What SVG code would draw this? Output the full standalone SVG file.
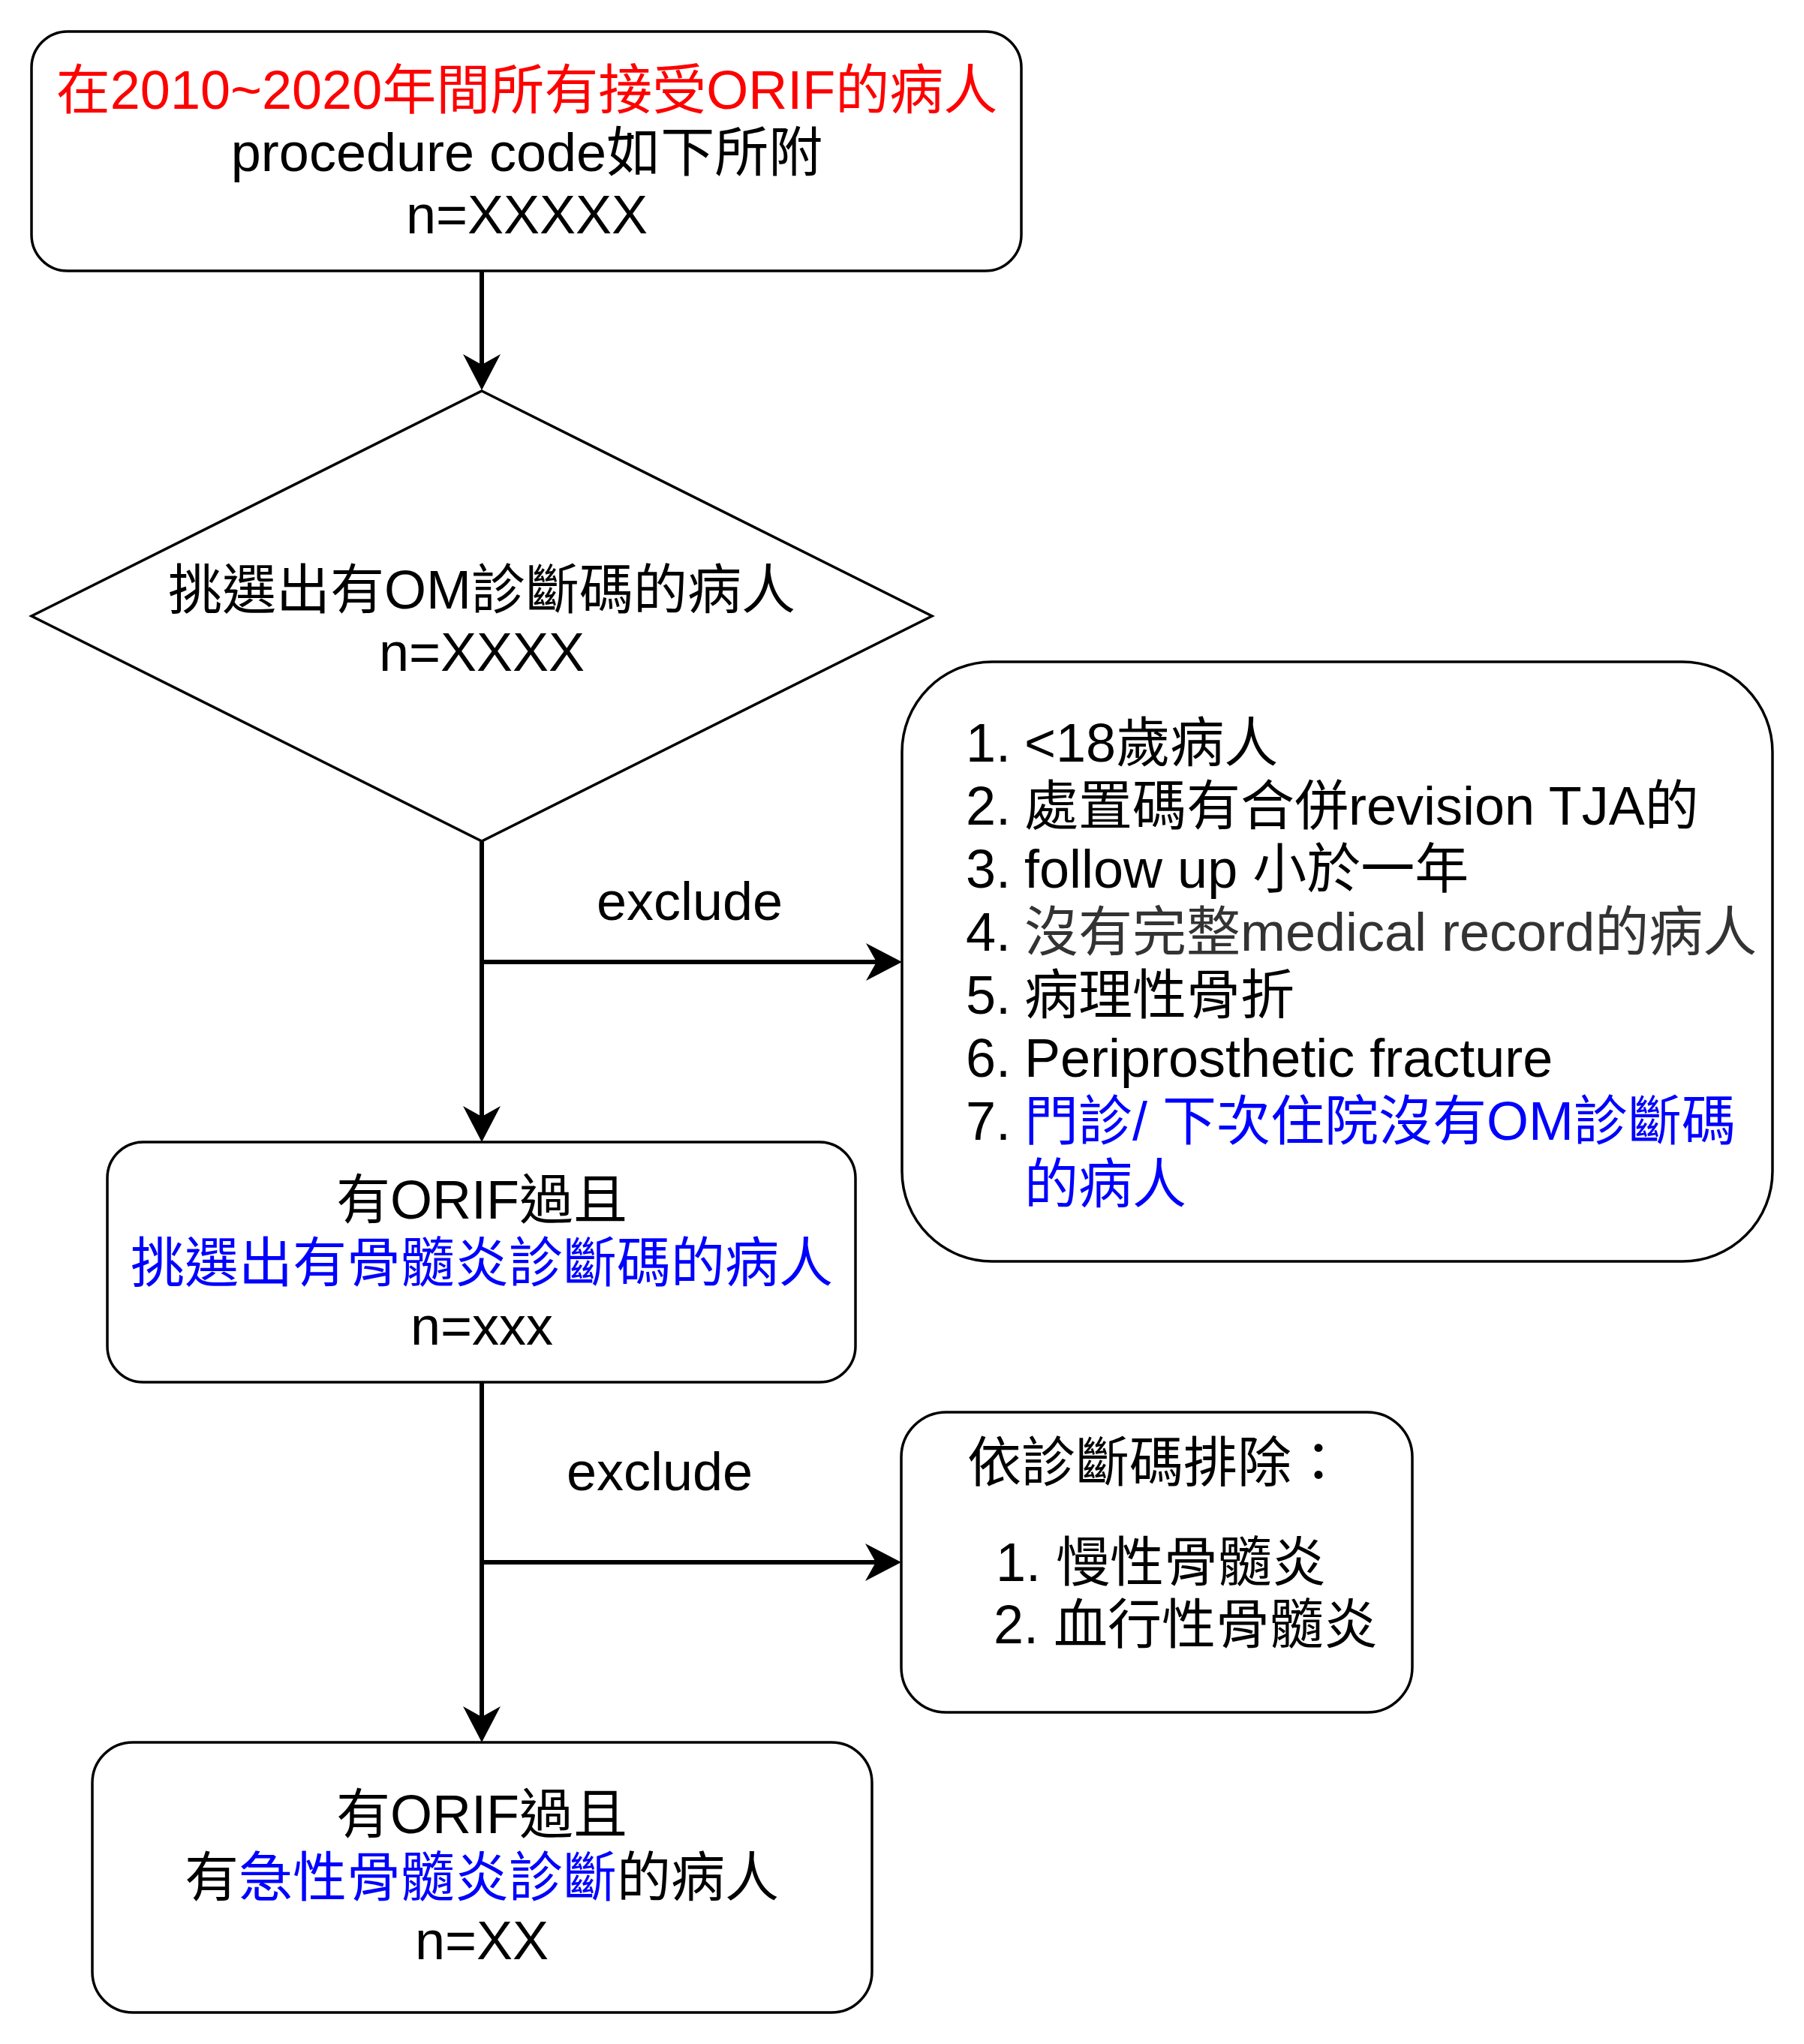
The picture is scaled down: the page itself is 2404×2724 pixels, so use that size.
<svg xmlns="http://www.w3.org/2000/svg" width="2404" height="2724" viewBox="0 0 2404 2724">
<style>
text{font-family:"Liberation Sans","Noto Sans CJK TC",sans-serif;font-size:72px;fill:#000}
.c{text-anchor:middle}
.shape{fill:#fff;stroke:#000;stroke-width:3.5}
.edge{fill:none;stroke:#000;stroke-width:6}
.red{fill:#ff0000}
.blue{fill:#0000ff}
.gray{fill:#333333}
</style>
<defs>
<marker id="arr" viewBox="-15 -26 50 52" refX="0" refY="0" markerWidth="50" markerHeight="52" markerUnits="userSpaceOnUse" orient="auto">
<path d="M34,0 L-14,-25 L0,0 L-14,25 Z" fill="#000"/>
</marker>
</defs>
<rect width="2404" height="2724" fill="#fff"/>
<g id="connectors">
<line class="edge" x1="642" y1="361" x2="642" y2="486" marker-end="url(#arr)"/>
<line class="edge" x1="642" y1="1121" x2="642" y2="1488" marker-end="url(#arr)"/>
<line class="edge" x1="642" y1="1282" x2="1168" y2="1282" marker-end="url(#arr)"/>
<line class="edge" x1="642" y1="1842" x2="642" y2="2288" marker-end="url(#arr)"/>
<line class="edge" x1="642" y1="2082" x2="1167" y2="2082" marker-end="url(#arr)"/>
<text class="c" x="919" y="1226">exclude</text>
<text class="c" x="879" y="1986">exclude</text>
</g>
<g id="start">
<rect class="shape" x="42" y="42" width="1319" height="319" rx="48" ry="48"/>
<text class="c red" x="702" y="145">在2010~2020年間所有接受ORIF的病人</text>
<text class="c" x="702" y="228">procedure code如下所附</text>
<text class="c" x="702" y="311">n=XXXXX</text>
</g>
<g id="decision">
<polygon class="shape" points="642,521 1242,821 642,1121 42,821"/>
<text class="c" x="642" y="811">挑選出有OM診斷碼的病人</text>
<text class="c" x="642" y="894">n=XXXX</text>
</g>
<g id="exclude1">
<rect class="shape" x="1202" y="882" width="1160" height="799" rx="120" ry="120"/>
<text x="1287" y="1015">1.</text><text x="1365" y="1015">&lt;18歲病人</text>
<text x="1287" y="1099">2.</text><text x="1365" y="1099">處置碼有合併revision TJA的</text>
<text x="1287" y="1183">3.</text><text x="1365" y="1183">follow up 小於一年</text>
<text x="1287" y="1267">4.</text><text class="gray" x="1365" y="1267">沒有完整medical record的病人</text>
<text x="1287" y="1351">5.</text><text x="1365" y="1351">病理性骨折</text>
<text x="1287" y="1435">6.</text><text x="1365" y="1435">Periprosthetic fracture</text>
<text x="1287" y="1519">7.</text><text class="blue" x="1365" y="1519">門診/ 下次住院沒有OM診斷碼</text>
<text class="blue" x="1365" y="1603">的病人</text>
</g>
<g id="step2">
<rect class="shape" x="143" y="1522" width="997" height="320" rx="48" ry="48"/>
<text class="c" x="642" y="1624">有ORIF過且</text>
<text class="c blue" x="642" y="1708">挑選出有骨髓炎診斷碼的病人</text>
<text class="c" x="642" y="1792">n=xxx</text>
</g>
<g id="exclude2">
<rect class="shape" x="1201" y="1882" width="681" height="400" rx="60" ry="60"/>
<text class="c" x="1541" y="1974">依診斷碼排除：</text>
<text x="1327" y="2107">1. 慢性骨髓炎</text>
<text x="1324" y="2190">2. 血行性骨髓炎</text>
</g>
<g id="result">
<rect class="shape" x="123" y="2322" width="1039" height="360" rx="54" ry="54"/>
<text class="c" x="642" y="2443">有ORIF過且</text>
<text class="c" x="642" y="2527">有<tspan class="blue">急性骨髓炎診斷</tspan>的病人</text>
<text class="c" x="642" y="2611">n=XX</text>
</g>
</svg>
